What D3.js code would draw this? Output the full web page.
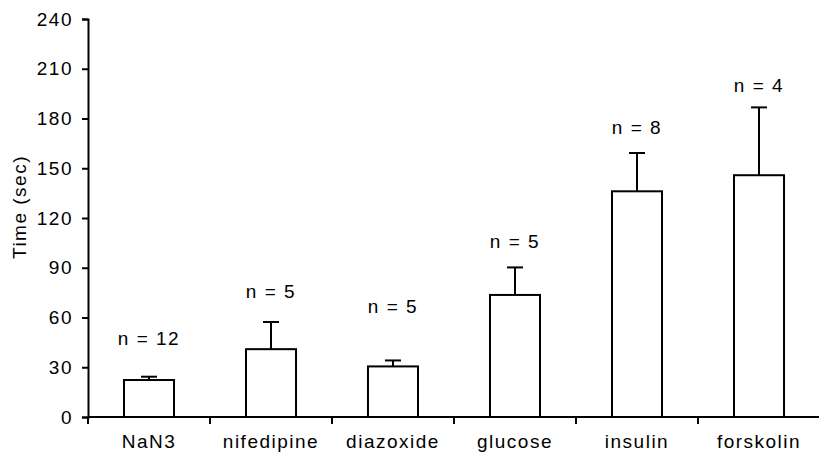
<!DOCTYPE html>
<meta charset="utf-8">
<script src="https://cdn.jsdelivr.net/npm/d3@7"></script>
<style>
  body { margin: 0; background: #fff; }
  text { font-family: "Liberation Sans", Arial, sans-serif; }
</style>
<div id="my_dataviz"></div>
<script>
// data
var categories = ["NaN3", "nifedipine", "diazoxide", "glucose", "insulin", "forskolin"];
var means  = [22.3, 40.9, 30.5, 73.6, 136.1, 145.8];
var errors = [2.0, 16.4, 3.6, 16.6, 23.1, 40.9];
var nLabels = ["n = 12", "n = 5", "n = 5", "n = 5", "n = 8", "n = 4"];
// height (in sec units) where each n label sits
var nLabelAt = [47.5, 75.8, 66.8, 105.9, 174.4, 199.7];
var yTicks = [0, 30, 60, 90, 120, 150, 180, 210, 240];

var margin = {top: 19, right: -1, bottom: 40, left: 88},
    width = 819 - margin.left - margin.right,
    height = 458 - margin.top - margin.bottom - 1;

var svg = d3.select("#my_dataviz")
  .append("svg")
    .attr("width", 819)
    .attr("height", 458)
  .append("g")
    .attr("transform", "translate(" + margin.left + "," + margin.top + ")");

var x = d3.scaleBand()
  .domain(categories)
  .range([0, width])
  .paddingInner(0.59)
  .paddingOuter(0.295);

var y = d3.scaleLinear()
  .domain([0, 240])
  .range([height, 0]);

var fontStyle = function(sel) {
  sel.selectAll("text")
    .attr("font-size", "19px")
    .attr("letter-spacing", "1.5px")
    .attr("fill", "#000");
};

// Y axis
var yAxis = svg.append("g")
  .call(d3.axisLeft(y).tickValues(yTicks).tickSize(6).tickPadding(9));
yAxis.select(".domain").attr("stroke-width", 2);
yAxis.selectAll(".tick line").attr("stroke-width", 2);
yAxis.call(fontStyle);

// X axis: labels at band centres, tick marks at band boundaries
var xAxis = svg.append("g")
  .attr("transform", "translate(0," + height + ")")
  .call(d3.axisBottom(x).tickSize(0).tickPadding(18));
xAxis.select(".domain").attr("stroke-width", 2).attr("d", "M0,0H" + (width + 2));
xAxis.call(fontStyle);

xAxis.selectAll(".bound")
  .data(d3.range(categories.length + 1))
  .enter()
  .append("line")
    .attr("class", "bound")
    .attr("x1", function(i) { return i * x.step(); })
    .attr("x2", function(i) { return i * x.step(); })
    .attr("y1", 0)
    .attr("y2", 7)
    .attr("stroke", "#000")
    .attr("stroke-width", 2);

// Y title
svg.append("text")
  .attr("transform", "translate(" + (19 - margin.left) + "," + (207 - margin.top) + ") rotate(-90)")
  .attr("text-anchor", "middle")
  .attr("dy", "0.35em")
  .attr("font-size", "19px")
  .attr("letter-spacing", "1.5px")
  .text("Time (sec)");

var rows = categories.map(function(c, i) {
  return {cat: c, mean: means[i], err: errors[i], label: nLabels[i], at: nLabelAt[i]};
});

// error bars
var eb = svg.selectAll(".err")
  .data(rows)
  .enter()
  .append("g")
    .attr("class", "err")
    .attr("stroke", "#000")
    .attr("stroke-width", 2);
eb.append("line")
  .attr("x1", function(d) { return x(d.cat) + x.bandwidth() / 2; })
  .attr("x2", function(d) { return x(d.cat) + x.bandwidth() / 2; })
  .attr("y1", function(d) { return y(d.mean); })
  .attr("y2", function(d) { return y(d.mean + d.err); });
eb.append("line")
  .attr("x1", function(d) { return x(d.cat) + x.bandwidth() / 2 - 8; })
  .attr("x2", function(d) { return x(d.cat) + x.bandwidth() / 2 + 8; })
  .attr("y1", function(d) { return y(d.mean + d.err); })
  .attr("y2", function(d) { return y(d.mean + d.err); });

// bars
svg.selectAll(".bar")
  .data(rows)
  .enter()
  .append("rect")
    .attr("class", "bar")
    .attr("x", function(d) { return x(d.cat); })
    .attr("width", x.bandwidth())
    .attr("y", function(d) { return y(d.mean); })
    .attr("height", function(d) { return y(0) - y(d.mean); })
    .attr("fill", "#fff")
    .attr("stroke", "#000")
    .attr("stroke-width", 2);

// n labels
svg.selectAll(".nlab")
  .data(rows)
  .enter()
  .append("text")
    .attr("class", "nlab")
    .attr("x", function(d) { return x(d.cat) + x.bandwidth() / 2; })
    .attr("y", function(d) { return y(d.at); })
    .attr("dy", "0.35em")
    .attr("text-anchor", "middle")
    .attr("font-size", "19px")
    .attr("letter-spacing", "1.5px")
    .text(function(d) { return d.label; });
</script>
